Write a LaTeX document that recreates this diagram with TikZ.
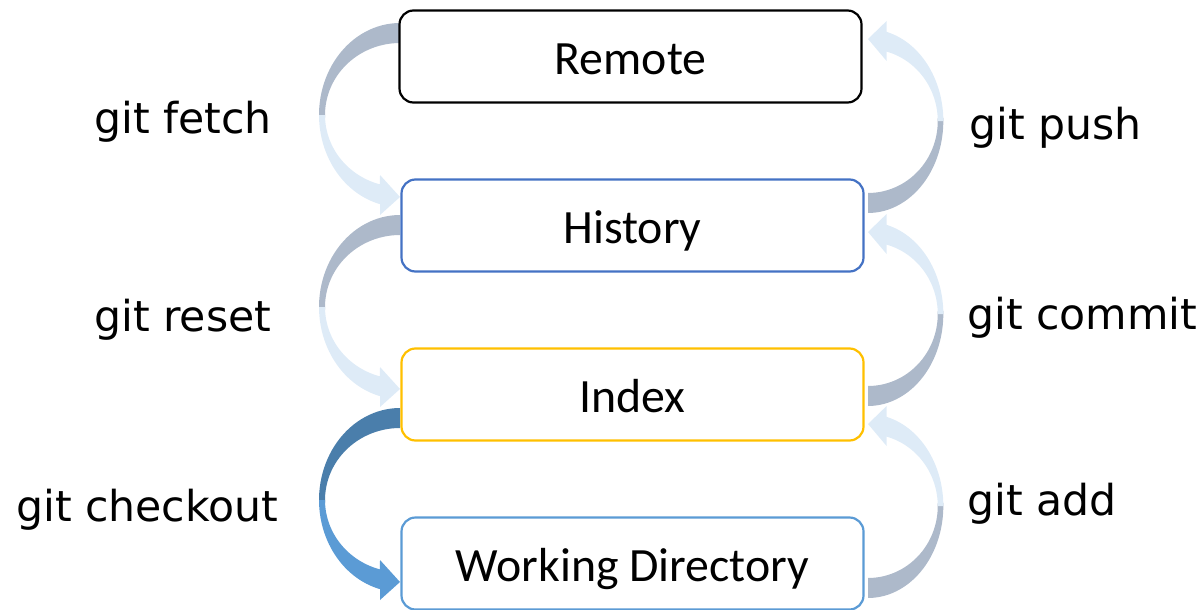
\documentclass[tikz,border=0pt]{standalone}
\usepackage{fontspec}
\newfontfamily\boxfont{Carlito}
\newfontfamily\lblfont{DejaVu Sans}
\definecolor{grayband}{HTML}{ADB9CA}
\definecolor{lightband}{HTML}{DEEBF7}
\definecolor{darkband}{HTML}{4A7EAB}
\definecolor{midband}{HTML}{5B9BD5}
\definecolor{histblue}{HTML}{4472C4}
\definecolor{idxyellow}{HTML}{FFC000}
\definecolor{wdblue}{HTML}{5B9BD5}
\newcommand\bandarrow[2]{%
  \fill[#1] (400,23) -- plot[domain=270:178,samples=30] ({400+81*cos(\x)},{115+92*sin(\x)})
     -- plot[domain=178:270,samples=30] ({400+75*cos(\x)},{115+72*sin(\x)}) -- cycle;
  \fill[#2] plot[domain=180:104.3,samples=30] ({400+81*cos(\x)},{115+92*sin(\x)})
     -- (380,215) -- (400,197) -- (380,175)
     -- plot[domain=105.5:180,samples=30] ({400+75*cos(\x)},{115+72*sin(\x)}) -- cycle;
}
\tikzset{
  box/.style={draw, line width=2.2pt, rounded corners=14pt, fill=white,
    minimum width=462pt, minimum height=92pt, inner sep=0pt,
    text height=36pt, text depth=0pt, font=\boxfont\fontsize{47.8}{52}\selectfont},
  lbl/.style={font=\lblfont\fontsize{42.6}{48}\selectfont, inner sep=0pt, anchor=base west},
  rightarrow/.style={shift={(868,118)}, xscale=-0.93, yscale=-1, shift={(-400,-118)}}
}
\begin{document}
\begin{tikzpicture}[x=1pt,y=-1pt]
\useasboundingbox (0,0) rectangle (1204,610);
% left arrows
\begin{scope}\bandarrow{grayband}{lightband}\end{scope}
\begin{scope}[shift={(0,192)}]\bandarrow{grayband}{lightband}\end{scope}
\begin{scope}[shift={(0,385)}]\bandarrow{darkband}{midband}\end{scope}
% right arrows
\begin{scope}[rightarrow]\bandarrow{grayband}{lightband}\end{scope}
\begin{scope}[shift={(0,193)}, rightarrow]\bandarrow{grayband}{lightband}\end{scope}
\begin{scope}[shift={(0,385)}, rightarrow]\bandarrow{grayband}{lightband}\end{scope}
% boxes
\node[box, draw=black] (remote) at (630.5,56.5) {Remote};
\node[box, draw=histblue] (history) at (632.5,225.5) {History};
\node[box, draw=idxyellow] (index) at (632.5,394.5) {Index};
\node[box, draw=wdblue] (wd) at (632.5,563.5) {Working Directory};
% labels
\node[lbl] (fetch) at (94,133) {git fetch};
\node[lbl] (reset) at (94,331) {git reset};
\node[lbl] (checkout) at (16,521) {git checkout};
\node[lbl] (push) at (969,139) {git push};
\node[lbl] (commit) at (967,329) {git commit};
\node[lbl] (add) at (967,515) {git add};
\end{tikzpicture}
\end{document}
